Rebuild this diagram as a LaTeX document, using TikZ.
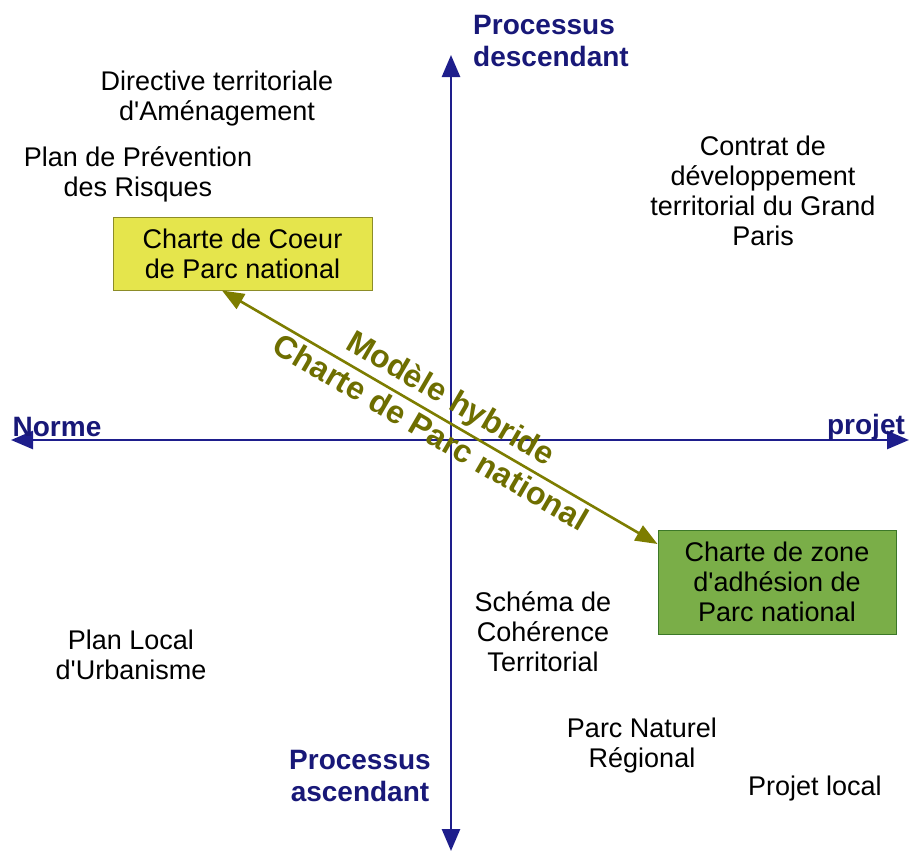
\documentclass[tikz,border=0pt]{standalone}
\usepackage{fontspec}
\setmainfont{Liberation Sans}
\newfontfamily\apfont{Liberation Sans}[Ligatures=NoCommon]
\usetikzlibrary{arrows.meta}
\newcommand\apos{{\apfont\char39\relax}}
\definecolor{axisblue}{RGB}{30,30,140}
\definecolor{labblue}{RGB}{24,24,120}
\definecolor{olivel}{RGB}{125,125,0}
\definecolor{olivet}{RGB}{110,110,0}
\definecolor{yfill}{RGB}{229,229,76}
\definecolor{ydraw}{RGB}{140,140,40}
\definecolor{gfill}{RGB}{122,174,72}
\definecolor{gdraw}{RGB}{60,120,40}
\begin{document}
\begin{tikzpicture}[x=1pt,y=-1pt,
  txt/.style={font=\fontsize{27}{30}\selectfont, align=center, inner sep=0pt},
  axlab/.style={font=\fontsize{28}{32}\selectfont\bfseries, text=labblue, inner sep=0pt},
  axisline/.style={draw=axisblue, line width=2.6pt, {Triangle[length=22pt,width=18pt]}-{Triangle[length=22pt,width=18pt]}},
  diagline/.style={draw=olivel, line width=2.6pt, {Triangle[length=22pt,width=17pt]}-{Triangle[length=22pt,width=17pt]}},
  diaglab/.style={font=\fontsize{32}{36}\selectfont\bfseries, text=olivet, inner sep=0pt, sloped},
  box/.style={txt, line width=1pt, inner sep=0pt}
]
\useasboundingbox (0,0) rectangle (910,852);

% axes
\coordinate (W) at (11,440);
\coordinate (E) at (909,440);
\coordinate (N) at (451,55);
\coordinate (S) at (451,851);
\draw[axisline] (W) -- (E);
\draw[axisline] (N) -- (S);

% axis labels
\node[axlab, anchor=base] (norme) at (57,436) {Norme};
\node[axlab, anchor=base] (projet) at (866,434) {projet};
\node[axlab, align=left] (desc) at (551,41) {Processus\\descendant};
\node[axlab, align=center] (asc) at (360,776) {Processus\\ascendant};

% boxes
\node[box, draw=ydraw, fill=yfill, minimum width=259pt, minimum height=73pt] (coeur) at (242.5,253.5) {Charte de Coeur\\de Parc national};
\node[box, draw=gdraw, fill=gfill, minimum width=238pt, minimum height=104pt] (zone) at (777,582) {Charte de zone\\d\apos adhésion de\\Parc national};

% diagonal
\draw[diagline] ([xshift=-20.5pt]coeur.south) -- node[diaglab, yshift=20pt] (mh) {Modèle hybride}
  node[diaglab, yshift=-17pt] (cp) {Charte de Parc national} ([yshift=38pt]zone.west);

% texts
\node[txt] (dta) at (217,99) {Directive territoriale\\d\apos Aménagement};
\node[txt] (ppr) at (138,174) {Plan de Prévention\\des Risques};
\node[txt] (cdt) at (763,191) {Contrat de\\développement\\territorial du Grand\\Paris};
\node[txt] (scot) at (543,632) {Schéma de\\Cohérence\\Territorial};
\node[txt] (plu) at (131,655) {Plan Local\\d\apos Urbanisme};
\node[txt] (pnr) at (642,746) {Parc Naturel\\Régional};
\node[txt] (pl) at (815,789) {Projet local};
\end{tikzpicture}
\end{document}
